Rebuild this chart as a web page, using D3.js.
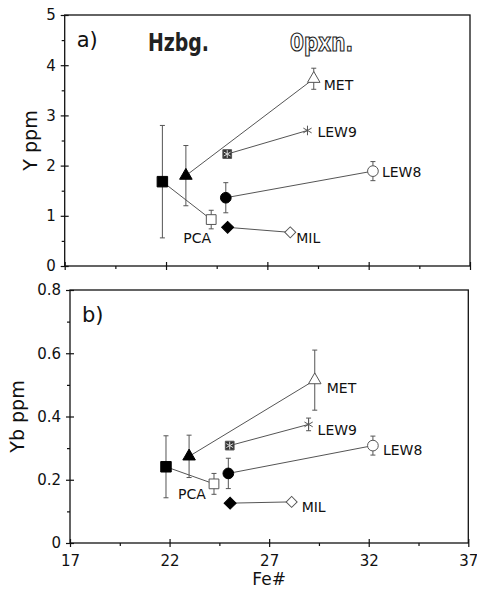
<!DOCTYPE html>
<html><head><meta charset="utf-8">
<script src="https://cdn.jsdelivr.net/npm/d3@7"></script>
<style>body{margin:0;background:#fff} svg{display:block}</style>
</head><body>
<svg id="chart" width="477" height="590"></svg>
<script>
// ---- data ----
const sampleNames = ["PCA", "MET", "LEW9", "LEW8", "MIL"];
const hzbgFe = [21.82, 22.98, 25.02, 24.95, 25.04];
const opxnFe = [24.23, 29.29, 28.98, 32.21, 28.13];
const hzbgY = [1.68, 1.80, 2.23, 1.36, 0.77];
const hzbgYErr = [1.12, 0.60, 0, 0.30, 0];
const opxnY = [0.925, 3.73, 2.70, 1.89, 0.67];
const opxnYErr = [0.185, 0.21, 0, 0.19, 0];
const hzbgYb = [0.241, 0.274, 0.308, 0.22, 0.126];
const hzbgYbErr = [0.098, 0.067, 0, 0.048, 0];
const opxnYb = [0.187, 0.515, 0.375, 0.308, 0.13];
const opxnYbErr = [0.033, 0.095, 0.02, 0.03, 0];
const xTicks = [17, 22, 27, 32, 37];
const xMinorTicks = [19.5, 24.5, 29.5, 34.5];
const yTicksA = [0, 1, 2, 3, 4, 5];
const yMinorA = [0.5, 1.5, 2.5, 3.5, 4.5];
const yTicksB = [0, 0.2, 0.4, 0.6, 0.8];
const yMinorB = [0.1, 0.3, 0.5, 0.7];

// ---- styling / layout ----
const svg = d3.select("#chart");
const FONT = "'DejaVu Sans', Verdana, sans-serif";
const GRAY = "#555";
const hzbgShape = ["square", "triangle", "starsq", "circle", "diamond"];
const opxnShape = ["square", "triangle", "asterisk", "circle", "diamond"];

const panels = [
  {
    box: {l: 64.7, r: 470, t: 15, b: 266},
    yDomain: [0, 5], yTicks: yTicksA, yMinor: yMinorA, yFmt: d3.format("d"),
    hz: hzbgY, hzErr: hzbgYErr, op: opxnY, opErr: opxnYErr,
    tag: "a)", yLabel: "Y ppm", yLabelX: 29.5, xLabels: false,
    lab: {PCA: [-28, 23], MET: [10, 11], LEW9: [10, 6.5], LEW8: [9, 6], MIL: [6, 11]},
    titles: true
  },
  {
    box: {l: 70, r: 468.3, t: 290, b: 543},
    yDomain: [0, 0.8], yTicks: yTicksB, yMinor: yMinorB, yFmt: d => d === 0 ? "0" : d3.format(".1f")(d),
    hz: hzbgYb, hzErr: hzbgYbErr, op: opxnYb, opErr: opxnYbErr,
    tag: "b)", yLabel: "Yb ppm", yLabelX: 17, xLabels: true,
    lab: {PCA: [-36, 15], MET: [12, 13], LEW9: [9, 11], LEW8: [10, 9.5], MIL: [10, 10]},
    titles: false
  }
];

function drawMarker(g, shape, filled, x, y) {
  const fill = filled ? "#000" : "#fff";
  const stroke = filled ? "#000" : GRAY;
  if (shape === "square") {
    g.append("path").attr("d", d3.symbol(d3.symbolSquare, filled ? 110 : 95)())
      .attr("transform", `translate(${x},${y})`).attr("fill", fill).attr("stroke", stroke).attr("stroke-width", 1);
  } else if (shape === "triangle") {
    g.append("path").attr("d", d3.symbol(d3.symbolTriangle, 68)())
      .attr("transform", `translate(${x},${y})`).attr("fill", fill).attr("stroke", stroke).attr("stroke-width", 1);
  } else if (shape === "circle") {
    g.append("path").attr("d", d3.symbol(d3.symbolCircle, 90)())
      .attr("transform", `translate(${x},${y})`).attr("fill", fill).attr("stroke", stroke).attr("stroke-width", 1);
  } else if (shape === "diamond") {
    g.append("path").attr("d", d3.symbol(d3.symbolSquare, filled ? 72 : 60)())
      .attr("transform", `translate(${x},${y}) rotate(45)`).attr("fill", fill).attr("stroke", stroke).attr("stroke-width", 1);
  } else if (shape === "asterisk") {
    g.append("path").attr("d", d3.symbol(d3.symbolAsterisk, 64)())
      .attr("transform", `translate(${x},${y})`).attr("fill", "none").attr("stroke", GRAY).attr("stroke-width", 1);
  } else if (shape === "starsq") {
    g.append("path").attr("d", d3.symbol(d3.symbolSquare, 76)())
      .attr("transform", `translate(${x},${y})`).attr("fill", "#333").attr("stroke", "#555").attr("stroke-width", 1);
    g.append("path").attr("d", d3.symbol(d3.symbolAsterisk, 42)())
      .attr("transform", `translate(${x},${y})`).attr("fill", "none").attr("stroke", "#ddd").attr("stroke-width", 1);
  }
}

function errBar(g, x, y, e, yScale) {
  if (!e) return;
  const y1 = yScale(y + e), y2 = yScale(y - e);
  const cap = 2.5;
  g.append("line").attr("x1", x).attr("x2", x).attr("y1", y1).attr("y2", y2);
  g.append("line").attr("x1", x - cap).attr("x2", x + cap).attr("y1", y1).attr("y2", y1);
  g.append("line").attr("x1", x - cap).attr("x2", x + cap).attr("y1", y2).attr("y2", y2);
}

panels.forEach(p => {
  const {l, r, t, b} = p.box;
  const x = d3.scaleLinear().domain([17, 37]).range([l, r]);
  const y = d3.scaleLinear().domain(p.yDomain).range([b, t]);
  const g = svg.append("g");

  // frame
  g.append("rect").attr("x", l).attr("y", t).attr("width", r - l).attr("height", b - t)
    .attr("fill", "none").attr("stroke", "#111").attr("stroke-width", 1.3);

  // y axis major
  const ya = g.append("g").attr("transform", `translate(${l},0)`)
    .call(d3.axisLeft(y).tickValues(p.yTicks).tickSize(4).tickPadding(5).tickFormat(p.yFmt));
  ya.select(".domain").remove();
  ya.selectAll(".tick line").attr("x1", 4).attr("stroke", "#111").attr("stroke-width", 1.2);
  ya.selectAll(".tick text").attr("font-family", FONT).attr("font-size", 15).attr("fill", "#111");
  // y axis minor
  const ym = g.append("g").attr("transform", `translate(${l},0)`)
    .call(d3.axisLeft(y).tickValues(p.yMinor).tickSize(3).tickFormat(""));
  ym.select(".domain").remove();
  ym.selectAll(".tick line").attr("stroke", "#111").attr("stroke-width", 1.2);

  // x axis major
  const xa = g.append("g").attr("transform", `translate(0,${b})`)
    .call(d3.axisBottom(x).tickValues(xTicks).tickSize(4).tickPadding(8)
      .tickFormat(p.xLabels ? d3.format("d") : ""));
  xa.select(".domain").remove();
  xa.selectAll(".tick line").attr("y1", -4).attr("stroke", "#111").attr("stroke-width", 1.2);
  xa.selectAll(".tick text").attr("font-family", FONT).attr("font-size", 15).attr("fill", "#111");
  const xm = g.append("g").attr("transform", `translate(0,${b})`)
    .call(d3.axisBottom(x).tickValues(xMinorTicks).tickSize(3).tickFormat(""));
  xm.select(".domain").remove();
  xm.selectAll(".tick line").attr("stroke", "#111").attr("stroke-width", 1.2);

  // connecting lines
  const lines = g.append("g").attr("stroke", GRAY).attr("stroke-width", 1);
  sampleNames.forEach((n, i) => {
    lines.append("line").attr("x1", x(hzbgFe[i])).attr("y1", y(p.hz[i]))
      .attr("x2", x(opxnFe[i])).attr("y2", y(p.op[i]));
  });

  // error bars
  const eb = g.append("g").attr("stroke", GRAY).attr("stroke-width", 1);
  sampleNames.forEach((n, i) => {
    errBar(eb, x(hzbgFe[i]), p.hz[i], p.hzErr[i], y);
    errBar(eb, x(opxnFe[i]), p.op[i], p.opErr[i], y);
  });

  // markers
  const mk = g.append("g");
  sampleNames.forEach((n, i) => {
    drawMarker(mk, hzbgShape[i], true, x(hzbgFe[i]), y(p.hz[i]));
    drawMarker(mk, opxnShape[i], false, x(opxnFe[i]), y(p.op[i]));
  });

  // sample labels
  sampleNames.forEach((n, i) => {
    const o = p.lab[n];
    g.append("text").attr("x", x(opxnFe[i]) + o[0]).attr("y", y(p.op[i]) + o[1])
      .attr("font-family", FONT).attr("font-size", 14).attr("fill", "#111").text(n);
  });

  // panel tag
  g.append("text").attr("x", l + 12).attr("y", t + 32)
    .attr("font-family", FONT).attr("font-size", 21).attr("fill", "#111").text(p.tag);

  // y label
  g.append("text").attr("transform", `translate(${p.yLabelX},${(t + b) / 2}) rotate(-90)`)
    .attr("text-anchor", "middle").attr("dominant-baseline", "central")
    .attr("font-family", FONT).attr("font-size", 19).attr("fill", "#111").text(p.yLabel);

  if (p.titles) {
    g.append("text").attr("x", 148).attr("y", 51)
      .attr("font-family", "'Liberation Sans Narrow', 'DejaVu Sans Condensed', sans-serif")
      .attr("font-weight", "bold").attr("font-size", 24).attr("fill", "#222")
      .attr("textLength", 61).attr("lengthAdjust", "spacingAndGlyphs").text("Hzbg.");
    g.append("text").attr("x", 290).attr("y", 51)
      .attr("font-family", "'Liberation Sans Narrow', 'DejaVu Sans Condensed', sans-serif")
      .attr("font-weight", "bold").attr("font-size", 24).attr("fill", "#fff")
      .attr("stroke", "#222").attr("stroke-width", 1.1)
      .attr("textLength", 63).attr("lengthAdjust", "spacingAndGlyphs").text("0pxn.");
  }
  if (p.xLabels) {
    g.append("text").attr("x", (l + r) / 2).attr("y", 585).attr("text-anchor", "middle")
      .attr("font-family", FONT).attr("font-size", 17).attr("fill", "#111").text("Fe#");
  }
});
</script>
</body></html>
